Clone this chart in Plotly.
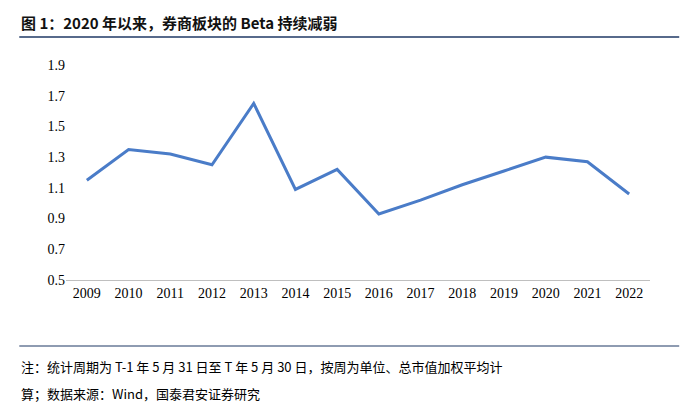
import plotly.graph_objects as go

years = ["2009","2010","2011","2012","2013","2014","2015","2016","2017","2018","2019","2020","2021","2022"]
beta = [1.15,1.35,1.32,1.25,1.65,1.09,1.22,0.93,1.02,1.12,1.21,1.30,1.27,1.06]
yticks = [0.5,0.7,0.9,1.1,1.3,1.5,1.7,1.9]

TOP = 57
PH = 215
fig = go.Figure(go.Scatter(x=years, y=beta, mode="lines",
                           line=dict(color="#4A7CC8", width=3)))
W, H = 688, 413
def py(pix):
    return 1 - (pix - TOP) / PH
fig.update_layout(
    width=W, height=H, paper_bgcolor="white", plot_bgcolor="white",
    margin=dict(l=58, r=46, t=TOP, b=H - TOP - PH),
    showlegend=False,
    font=dict(family="Noto Sans CJK SC, serif", size=13, color="#000"),
    xaxis=dict(type="category", showline=True, linecolor="#BFBFBF", ticks="",
               tickfont=dict(family="Liberation Serif", size=14), range=[-0.5, 13.5]),
    yaxis=dict(range=[0.5, 1.9], tickvals=yticks, tickformat=".1f", showgrid=False,
               zeroline=False, tickfont=dict(family="Liberation Serif", size=14)),
    shapes=[
        dict(type="line", xref="paper", yref="paper", x0=-0.08, x1=1.05, y0=py(29), y1=py(29),
             line=dict(color="#1F3864", width=1.5)),
        dict(type="line", xref="paper", yref="paper", x0=-0.08, x1=1.05, y0=py(338), y1=py(338),
             line=dict(color="#1F3864", width=1.2)),
    ],
    annotations=[
        dict(text="<b>图 1：2020 年以来，券商板块的 Beta 持续减弱</b>", xref="paper", yref="paper",
             x=-0.08, y=py(14), xanchor="left", yanchor="middle", showarrow=False,
             font=dict(size=15, color="#111")),
        dict(text="注：统计周期为 T-1 年 5 月 31 日至 T 年 5 月 30 日，按周为单位、总市值加权平均计",
             xref="paper", yref="paper", x=-0.08, y=py(358), xanchor="left", yanchor="middle",
             showarrow=False, font=dict(size=13)),
        dict(text="算；数据来源：Wind，国泰君安证券研究",
             xref="paper", yref="paper", x=-0.08, y=py(385), xanchor="left", yanchor="middle",
             showarrow=False, font=dict(size=13)),
    ],
)
fig.write_html("out.html")
